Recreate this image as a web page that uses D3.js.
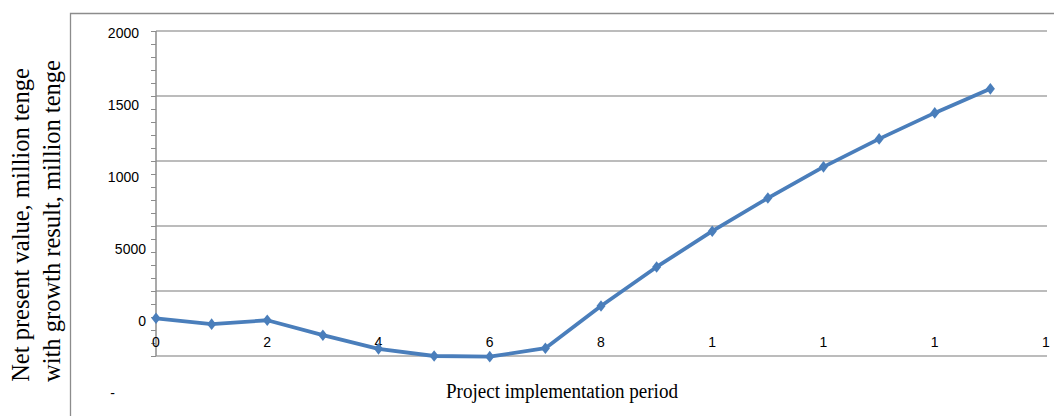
<!DOCTYPE html>
<html>
<head>
<meta charset="utf-8">
<script src="https://cdn.jsdelivr.net/npm/d3@7"></script>
<style>
    body { margin: 0; background: #fff; }
    #chart { width: 1054px; height: 416px; }
</style>
</head>
<body>
<div id="chart"><svg></svg></div>
<script>
// periods on the x axis and net present value at each
let periods = [0, 1, 2, 3, 4, 5, 6, 7, 8, 9, 10, 11, 12, 13, 14, 15];
let npv = [-2100, -2550, -2250, -3400, -4450, -5000, -5050, -4400, -1150, 1850, 4600, 7150, 9550, 11700, 13700, 15550];

// tick labels as printed (truncated in the original)
let xTickValues = [0, 2, 4, 6, 8, 10, 12, 14, 16];
let xTickLabels = ["0", "2", "4", "6", "8", "1", "1", "1", "1"];
let yGridValues = [-5000, 0, 5000, 10000, 15000, 20000];
let yTickLabels = ["2000", "1500", "1000", "5000", "0", "-"];

let xTitle = "Project implementation period";
let yTitle = ["Net present value, million tenge", "with growth result, million tenge"];

function draw() {
    let chart = document.querySelector("#chart");
    let svg = d3.select("#chart svg").attr("width", chart.offsetWidth).attr("height", chart.offsetHeight);
    svg.selectAll("*").remove();

    let plot = {left: 156, right: 1047, top: 31, bottom: 356};

    let x = d3.scaleLinear().domain([0, 16]).range([plot.left, 1046]);
    let y = d3.scaleLinear().domain([-5000, 20000]).range([plot.bottom, plot.top]);
    // the labels sit on their own spacing, not on the gridlines
    let yLab = d3.scalePoint().domain(yTickLabels).range([33, 393]);

    // outer frame (left and top edges only visible)
    svg.append("path")
        .attr("d", "M70.5,416V13.5H1054")
        .attr("fill", "none")
        .attr("stroke", "#8c8c8c")
        .attr("stroke-width", 1.3);

    // gridlines
    svg.append("g")
        .selectAll("line")
        .data(yGridValues)
        .enter().append("line")
        .attr("x1", plot.left)
        .attr("x2", plot.right)
        .attr("y1", d => y(d))
        .attr("y2", d => y(d))
        .attr("stroke", "#a6a6a6")
        .attr("stroke-width", 1.5);

    // y axis line with minor ticks
    let yAxis = g => g.call(d3.axisLeft(y).ticks(25).tickSize(5).tickFormat(""))
        .call(g => g.select(".domain").remove());
    svg.append("g")
        .attr("transform", "translate(" + plot.left + ",0)")
        .call(yAxis)
        .selectAll("line").attr("stroke", "#8c8c8c");
    svg.append("line")
        .attr("x1", plot.left).attr("x2", plot.left)
        .attr("y1", plot.top).attr("y2", plot.bottom)
        .attr("stroke", "#8c8c8c")
        .attr("stroke-width", 1.5);

    // y tick labels
    svg.append("g")
        .attr("font-family", "'Liberation Sans', Arial, sans-serif")
        .attr("font-size", 14)
        .attr("fill", "#000")
        .selectAll("text")
        .data(yTickLabels)
        .enter().append("text")
        .attr("x", (d, i) => i < 3 ? 139 : (i < 5 ? 146 : 115))
        .attr("y", d => yLab(d))
        .attr("dy", "0.35em")
        .attr("text-anchor", "end")
        .text(d => d);

    // x tick labels, drawn inside the plot
    svg.append("g")
        .attr("font-family", "'Liberation Sans', Arial, sans-serif")
        .attr("font-size", 14)
        .attr("fill", "#000")
        .selectAll("text")
        .data(xTickValues)
        .enter().append("text")
        .attr("x", d => x(d))
        .attr("y", 342)
        .attr("dy", "0.35em")
        .attr("text-anchor", "middle")
        .text((d, i) => xTickLabels[i]);

    // series line
    let line = d3.line()
        .x((d, i) => x(periods[i]))
        .y(d => y(d));

    svg.append("path")
        .datum(npv)
        .attr("fill", "none")
        .attr("stroke", "#4a7ebb")
        .attr("stroke-width", 3.8)
        .attr("stroke-linejoin", "round")
        .attr("d", line);

    // diamond markers
    svg.append("g")
        .selectAll("path")
        .data(npv)
        .enter().append("path")
        .attr("transform", (d, i) => "translate(" + x(periods[i]) + "," + y(d) + ") scale(0.9,1.15)")
        .attr("d", d3.symbol().type(d3.symbolDiamond2).size(65))
        .attr("fill", "#4a7ebb");

    // axis titles
    svg.append("text")
        .attr("x", 562)
        .attr("y", 398)
        .attr("font-family", "'Liberation Serif', 'Times New Roman', serif")
        .attr("font-size", 20)
        .attr("text-anchor", "middle")
        .attr("textLength", 232)
        .attr("lengthAdjust", "spacingAndGlyphs")
        .text(xTitle);

    let yt = svg.append("g")
        .attr("font-family", "'Liberation Serif', 'Times New Roman', serif")
        .attr("font-size", 24.5)
        .attr("text-anchor", "middle");
    yt.append("text")
        .attr("transform", "translate(28.5,225) rotate(-90)")
        .text(yTitle[0]);
    yt.append("text")
        .attr("transform", "translate(59.5,221) rotate(-90)")
        .text(yTitle[1]);
}

draw();
</script>
</body>
</html>
